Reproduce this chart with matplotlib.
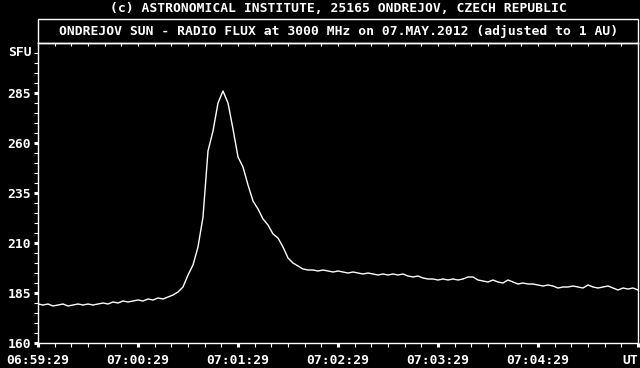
import numpy as np
import matplotlib
matplotlib.use("Agg")
import matplotlib.pyplot as plt
from matplotlib.patches import Rectangle

# radio flux samples (SFU), one every 3 s starting 06:59:29 UT
step_sec = 3
flux = [
    179.5, 179, 179.5, 178.5, 179, 179.5, 178.5, 179, 179.5, 179,
    179.5, 179, 179.5, 180, 179.5, 180.5, 180, 181, 180.5, 181,
    181.5, 181, 182, 181.5, 182.5, 182, 183, 184, 185.5, 188,
    194, 199, 208, 223, 256, 266, 280, 286, 280, 267,
    253, 248, 239, 231, 227, 222, 219, 214.5, 212.5, 208,
    202.5, 200, 198.5, 197, 196.5, 196.5, 196, 196.5, 196, 195.5,
    196, 195.5, 195, 195.5, 195, 194.5, 195, 194.5, 194, 194.5,
    194, 194.5, 194, 194.5, 193.5, 193, 193.5, 192.5, 192, 192,
    191.5, 192, 191.5, 192, 191.5, 192, 193, 193, 191.5, 191,
    190.5, 191.5, 190.5, 190, 191.5, 190.5, 189.5, 190, 189.5, 189.5,
    189, 188.5, 189, 188.5, 187.5, 188, 188, 188.5, 188, 187.5,
    189, 188, 187.5, 188, 188.5, 187.5, 186.5, 187.5, 187, 187.5,
    186.5,
]
t_sec = np.arange(len(flux)) * step_sec

x_ticks = [0, 60, 120, 180, 240, 300, 360]
x_labels = ["06:59:29", "07:00:29", "07:01:29", "07:02:29", "07:03:29", "07:04:29", "UT"]
y_ticks = [160, 185, 210, 235, 260, 285]

title_top = "(c) ASTRONOMICAL INSTITUTE, 25165 ONDREJOV, CZECH REPUBLIC"
title_box = "ONDREJOV SUN - RADIO FLUX at 3000 MHz on 07.MAY.2012 (adjusted to 1 AU)"

W, H = 640, 368
fig = plt.figure(figsize=(W / 100, H / 100), dpi=100, facecolor="black")
font = dict(family="DejaVu Sans Mono", weight="bold", size=9.4, color="white")

ax = fig.add_axes([38 / W, 25 / H, 600 / W, 300 / H], facecolor="black")
ax.plot(t_sec, flux, color="white", lw=1.0)
ax.set_xlim(0, 360)
ax.set_ylim(160, 310)

for s in ax.spines.values():
    s.set_color("white")
    s.set_linewidth(1.0)

ax.set_xticks(x_ticks)
ax.set_xticklabels(x_labels, fontdict=font)
ax.get_xticklabels()[-1].set_ha("right")
ax.set_xticks(np.arange(0, 361, 10), minor=True)
ax.set_yticks(y_ticks)
ax.set_yticklabels([str(v) for v in y_ticks], fontdict=font)
ax.set_yticks(np.arange(160, 310, 5), minor=True)
ax.tick_params(which="major", length=3, width=2.2, color="white", direction="out")
ax.tick_params(axis="x", which="major", pad=5)
ax.tick_params(axis="y", which="major", pad=2)
ax.tick_params(which="minor", length=3, width=0.8, color="white", direction="out")

top = ax.secondary_xaxis("top")
top.set_xticks(np.arange(0, 361, 10))
top.set_xticklabels([])
top.tick_params(length=2, width=0.8, color="white", direction="in")
top.spines["top"].set_color("white")

ax.text(-0.01, 305, "SFU", transform=ax.get_yaxis_transform(), ha="right", va="center", **font)

fig.patches.append(Rectangle((38 / W, 1 - 43 / H), 600 / W, 24 / H, transform=fig.transFigure,
                             fill=False, edgecolor="white", lw=1.0))
fig.text(338 / W, 1 - 8 / H, title_top, ha="center", va="center", **font)
fig.text(339 / W, 1 - 31 / H, title_box, ha="center", va="center", **font)

fig.savefig("out.png", dpi=100, facecolor="black")
